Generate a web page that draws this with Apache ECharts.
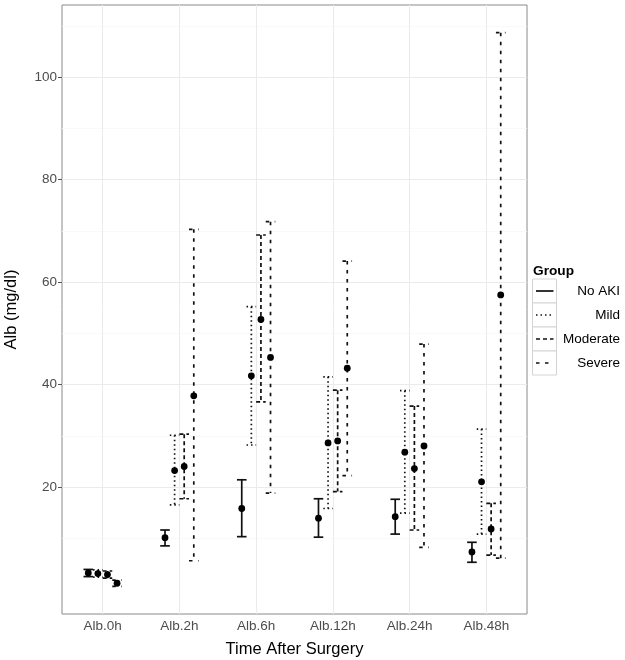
<!DOCTYPE html>
<html>
<head>
<meta charset="utf-8">
<script src="https://cdn.jsdelivr.net/npm/echarts@6/dist/echarts.min.js"></script>
<style>
html,body{margin:0;padding:0;background:#fff;}
#chart{width:625px;height:660px;}
</style>
</head>
<body>
<div id="chart"></div>
<script>
// ---- data ----
const categories = ['Alb.0h', 'Alb.2h', 'Alb.6h', 'Alb.12h', 'Alb.24h', 'Alb.48h'];
const groups = ['No AKI', 'Mild', 'Moderate', 'Severe'];

const meanNoAKI   = [3.2, 10.1, 15.8, 13.9, 14.2, 7.3];
const lowNoAKI    = [2.5, 8.5, 10.3, 10.2, 10.8, 5.3];
const highNoAKI   = [3.9, 11.6, 21.4, 17.7, 17.6, 9.2];

const meanMild    = [3.1, 23.2, 41.7, 28.6, 26.8, 21.0];
const lowMild     = [2.4, 16.5, 28.2, 15.8, 14.9, 10.8];
const highMild    = [3.8, 30.1, 55.2, 41.5, 38.8, 31.3];

const meanModerate = [2.9, 24.0, 52.7, 29.0, 23.6, 11.8];
const lowModerate  = [2.2, 17.7, 36.6, 19.1, 11.6, 6.7];
const highModerate = [3.6, 30.3, 69.2, 38.9, 35.8, 16.8];

const meanSevere  = [1.2, 37.8, 45.3, 43.2, 28.0, 57.5];
const lowSevere   = [0.6, 5.6, 18.8, 22.2, 8.2, 6.1];
const highSevere  = [1.8, 70.3, 71.8, 64.1, 47.9, 108.7];

const yTickValues = [20, 40, 60, 80, 100];
const yMinorValues = [10, 30, 50, 70, 90, 110];

// ---- styling / layout ----
const groupData = [
  {mean: meanNoAKI, low: lowNoAKI, high: highNoAKI},
  {mean: meanMild, low: lowMild, high: highMild},
  {mean: meanModerate, low: lowModerate, high: highModerate},
  {mean: meanSevere, low: lowSevere, high: highSevere}
];
const dashes = [null, [1.5, 3], [4, 3], [3.5, 5.5]];
const dodge = [-0.1875, -0.0625, 0.0625, 0.1875];
const capHalf = 0.0625;
const LW = 1.7;
const FONT = 'Liberation Sans, Arial, sans-serif';
const xPositions = categories.map((c, i) => i + 1);

const chart = echarts.init(document.getElementById('chart'), null, {renderer: 'canvas'});

function makeSeries(g) {
  const d = groupData[g];
  return {
    type: 'custom',
    name: groups[g],
    z: 5,
    silent: true,
    animation: false,
    encode: {x: 0, y: [1, 2, 3]},
    data: categories.map((c, i) => [xPositions[i], d.low[i], d.high[i], d.mean[i]]),
    renderItem: function (params, api) {
      const xc = api.value(0) + dodge[g];
      const lo = api.value(1), hi = api.value(2), m = api.value(3);
      const tl = api.coord([xc - capHalf, hi]), tr = api.coord([xc + capHalf, hi]);
      const bl = api.coord([xc - capHalf, lo]), br = api.coord([xc + capHalf, lo]);
      const t = api.coord([xc, hi]), b = api.coord([xc, lo]);
      const p = api.coord([xc, m]);
      const st = {stroke: '#111', lineWidth: LW, lineDash: dashes[g] || null, fill: null, lineCap: 'butt'};
      return {
        type: 'group',
        children: [
          {type: 'line', shape: {x1: tl[0], y1: tl[1], x2: tr[0], y2: tr[1]}, style: st},
          {type: 'line', shape: {x1: t[0], y1: t[1], x2: b[0], y2: b[1]}, style: st},
          {type: 'line', shape: {x1: bl[0], y1: bl[1], x2: br[0], y2: br[1]}, style: st},
          {type: 'circle', shape: {cx: p[0], cy: p[1], r: 3.4}, style: {fill: '#000', stroke: null}, z2: 10}
        ]
      };
    }
  };
}

// legend built from graphic elements
const legendX = 532.5, legendTop = 279, keyH = 24, keyW = 24;
const legendEls = [
  {type: 'text', left: 533, top: 264, style: {text: 'Group', font: 'bold 13.7px ' + FONT, fill: '#000'}}
];
groups.forEach((name, g) => {
  const y0 = legendTop + g * keyH;
  legendEls.push({type: 'rect', shape: {x: legendX, y: y0, width: keyW, height: keyH},
    style: {fill: '#fff', stroke: '#d4d4d4', lineWidth: 1}});
  legendEls.push({type: 'line', shape: {x1: legendX + 3.5, y1: y0 + keyH / 2, x2: legendX + keyW - 3, y2: y0 + keyH / 2},
    style: {stroke: '#111', lineWidth: LW, lineDash: dashes[g] || null}});
  legendEls.push({type: 'text', x: 620, y: y0 + keyH / 2,
    style: {text: name, font: '13.5px ' + FONT, fill: '#000', align: 'right', verticalAlign: 'middle'}});
});

const gridSeries = {
  type: 'line',
  data: [],
  z: 1,
  silent: true,
  animation: false,
  markLine: {
    silent: true,
    symbol: ['none', 'none'],
    label: {show: false},
    animation: false,
    data: [
      ...yMinorValues.map(v => ({yAxis: v, lineStyle: {color: '#f8f8f8', width: 0.8, type: 'solid'}})),
      ...yTickValues.map(v => ({yAxis: v, lineStyle: {color: '#ebebeb', width: 1, type: 'solid'}})),
      ...xPositions.map(v => ({xAxis: v, lineStyle: {color: '#ebebeb', width: 1, type: 'solid'}}))
    ]
  }
};

chart.setOption({
  animation: false,
  backgroundColor: '#fff',
  grid: {left: 62, top: 5, width: 465, height: 609, containLabel: false, outerBoundsMode: 'none',
    show: true, borderColor: '#8a8a8a', borderWidth: 1, backgroundColor: '#fff'},
  xAxis: {
    type: 'value',
    min: 0.47,
    max: 6.53,
    name: 'Time After Surgery',
    nameLocation: 'middle',
    nameGap: 27,
    nameTextStyle: {fontFamily: FONT, fontSize: 16.5, color: '#000'},
    axisLine: {show: false},
    splitLine: {show: false},
    axisTick: {show: true, length: 4, lineStyle: {color: '#555'}, customValues: xPositions},
    axisLabel: {
      customValues: xPositions,
      margin: 5,
      fontFamily: FONT, fontSize: 13.5, color: '#4d4d4d',
      formatter: v => categories[Math.round(v) - 1] || ''
    }
  },
  yAxis: {
    type: 'value',
    min: -4.8,
    max: 114.1,
    name: 'Alb (mg/dl)',
    nameLocation: 'middle',
    nameGap: 42,
    nameTextStyle: {fontFamily: FONT, fontSize: 16.5, color: '#000'},
    axisLine: {show: false},
    splitLine: {show: false},
    axisTick: {show: true, length: 4, lineStyle: {color: '#555'}, customValues: yTickValues},
    axisLabel: {customValues: yTickValues, margin: 5, fontFamily: FONT, fontSize: 13.5, color: '#4d4d4d'}
  },
  graphic: legendEls,
  series: [gridSeries, makeSeries(0), makeSeries(1), makeSeries(2), makeSeries(3)]
});
</script>
</body>
</html>
